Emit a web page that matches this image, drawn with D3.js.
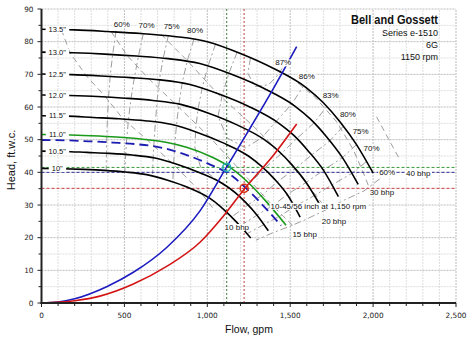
<!DOCTYPE html>
<html><head><meta charset="utf-8">
<script src="https://cdn.jsdelivr.net/npm/d3@7/dist/d3.min.js"></script>
<style>body{margin:0;background:#fff}svg{display:block}</style>
</head><body><svg id="c" width="474" height="344"></svg>
<script>
// ---------- data ----------
const flowTicks = [0,500,1000,1500,2000,2500];
const flowTickLabels = ["0","500","1,000","1,500","2,000","2,500"];
const headTicks = [0,10,20,30,40,50,60,70,80,90];

// impeller curves [flow gpm, head ft]
const imp135 = [[0,83.8],[200,83.6],[400,83.1],[600,82.5],[800,81.6],[1000,80.0],[1200,76.4],[1400,71.8],[1600,65.8],[1700,61.3],[1800,55.5],[1900,48.5],[2000,39.8]];
const imp130 = [[0,76.8],[191,76.6],[382,76.2],[573,75.6],[764,74.8],[955,73.3],[1146,70.0],[1337,65.8],[1528,60.3],[1624,56.2],[1719,50.9],[1815,44.5],[1910,36.3]];
const imp125 = [[0,70.1],[179,69.9],[358,69.5],[537,69.0],[716,68.3],[895,66.9],[1074,63.9],[1253,60.1],[1432,55.0],[1522,51.3],[1611,46.4],[1701,40.6],[1790,32.6]];
const imp120 = [[0,63.7],[168,63.5],[336,63.2],[504,62.7],[672,62.0],[840,60.8],[1008,58.1],[1176,54.6],[1344,50.0],[1428,46.6],[1512,42.2],[1596,36.9],[1680,30.0]];
const imp115 = [[0,57.3],[156,57.2],[312,56.8],[468,56.4],[624,55.8],[780,54.7],[936,52.3],[1092,49.1],[1248,45.0],[1326,41.9],[1404,38.0],[1482,33.2],[1560,26.3]];
const imp110 = [[0,51.6],[150,51.5],[300,51.2],[450,50.8],[600,50.2],[750,49.2],[880,47.6],[1030,44.6],[1118,42.2],[1240,37.2],[1360,30.8],[1475,23.8]];
const imp108 = [[0,49.9],[144,49.8],[288,49.5],[432,49.1],[576,48.6],[720,47.6],[864,45.5],[1008,42.6],[1152,38.8],[1224,35.6],[1296,32.0],[1370,28.0],[1445,23.7]];
const imp105 = [[0,46.5],[137,46.4],[274,46.1],[410,45.8],[547,45.3],[684,44.4],[821,42.4],[958,39.8],[1094,36.5],[1163,34.0],[1231,30.8],[1300,26.9],[1368,22.1]];
const imp100 = [[0,41.2],[127,41.1],[254,40.9],[380,40.6],[507,40.1],[634,39.3],[761,37.6],[888,35.3],[1014,32.1],[1078,29.6],[1141,26.6],[1205,23.2],[1262,19.9]];
const impNames = ['13.5"','13.0"','12.5"','12.0"','11.5"','11.0"','10.5"','10"'];

// system curves
const sysBlue = [[0,0],[100,0.3],[200,1.3],[393,5.0],[554,9.4],[755,17.0],[956,28.2],[1115,41.5],[1240,52.0],[1380,64.0],[1539,78.5]];
const sysRed = [[0,0],[200,0.7],[352,2.1],[554,5.8],[755,11.2],[956,18.6],[1100,26.8],[1225,35.0],[1400,45.3],[1539,54.8]];

// iso-efficiency lines
const eff60L = [[450,83.3],[430,76.4],[415,69.8],[405,63.4],[398,57.0],[394,51.4],[392,46.4],[390,40.8]];
const eff70L = [[614,82.5],[585,75.6],[560,69.0],[540,62.7],[525,56.4],[515,50.8],[508,45.8],[503,40.2]];
const eff75L = [[765,81.8],[735,75.2],[712,68.6],[698,62.3],[688,56.0],[680,50.4],[674,45.4],[670,39.5]];
const eff80L = [[920,80.8],[880,74.3],[850,67.8],[830,61.3],[815,55.0],[805,49.2],[798,43.6],[792,37.3]];
const eff83 = [[1050,79.3],[1005,72.6],[970,66.0],[945,59.6],[930,53.3],[925,47.6],[960,41.5],[1060,37.5],[1176,33.4],[1264,37.0],[1342,41.1],[1445,45.7],[1539,50.3],[1643,55.1],[1720,60.1]];
const eff86 = [[1180,76.8],[1130,70.3],[1090,63.6],[1065,57.2],[1120,50.5],[1230,47.5],[1327,50.5],[1414,55.5],[1509,60.9],[1580,66.4]];
const eff87 = [[1260,75.0],[1245,70.2],[1290,66.3],[1370,66.8],[1420,69.5],[1452,71.8]];
const eff80R = [[1820,54.1],[1738,49.6],[1629,45.3],[1529,41.1],[1420,37.0],[1338,33.3],[1245,30.0],[1154,26.6]];
const eff75R = [[1900,48.5],[1815,44.5],[1700,40.6],[1596,36.9],[1482,33.2],[1397,29.9],[1300,26.9],[1205,23.8]];
const eff70R = [[1960,43.3],[1872,39.7],[1754,36.2],[1646,32.9],[1529,29.6],[1441,26.7],[1341,24.0],[1243,21.3]];
const eff60R = [[2040,38.0],[1945,34.3],[1826,31.5],[1714,28.5],[1591,25.5],[1499,23.5],[1395,21.5],[1293,19.2]];
const effLabels = [["60%",484,85.4],["70%",634,85.1],["75%",785,84.8],["80%",926,83.4],["87%",1458,73.6],["86%",1600,69.5],["83%",1744,63.7],["80%",1848,57.9],["75%",1925,52.6],["70%",1991,47.5],["60%",2085,39.9]];

// bhp lines
const bhp10 = [[120,83.7],[172,76.6],[268,69.7],[386,63.1],[491,56.4],[632,50.2],[800,42.2],[950,34.5],[1050,28.0]];
const bhp15 = [[420,83.1],[516,75.8],[644,68.8],[806,61.0],[1014,50.8],[1250,37.8],[1400,29.5],[1520,23.5]];
const bhp20 = [[720,82.3],[879,74.2],[1060,64.2],[1270,54.5],[1470,44.5],[1600,36.5],[1700,30.0]];
const bhp30 = [[1500,69.3],[1650,63.0],[1780,55.5],[1880,47.0],[1940,40.0],[1975,35.5]];
const bhp40 = [[2021,57.0],[2090,50.5],[2162,43.8]];
const bhpLabels = [["10 bhp",1178,23.2],["15 bhp",1587,21.0],["20 bhp",1764,24.9],["30 bhp",2053,33.8],["40 bhp",2272,39.7]];

// operating points / reference lines
const opGreen = [1117,41.5];
const opRed = [1222,35.1];
const refBlueHead = 40.0;

// ---------- drawing ----------
const svg = d3.select("#c");
const x = d3.scaleLinear().domain([0,2500]).range([41.5,456]);
const y = d3.scaleLinear().domain([0,90]).range([303,9]);
const line = d3.line().x(d=>x(d[0])).y(d=>y(d[1]));
const smooth = d3.line().x(d=>x(d[0])).y(d=>y(d[1])).curve(d3.curveMonotoneX);

// grid
const g = svg.append("g");
g.selectAll(".vmin").data(d3.range(100,2501,100)).join("line")
  .attr("x1",d=>x(d)).attr("x2",d=>x(d)).attr("y1",y(0)).attr("y2",y(90))
  .attr("stroke",d=>d%500===0?"#bdbdbd":"#dedede").attr("stroke-width",1).attr("stroke-dasharray","2,1");
g.selectAll(".hmin").data(d3.range(5,91,5)).join("line")
  .attr("x1",x(0)).attr("x2",x(2500)).attr("y1",d=>y(d)).attr("y2",d=>y(d))
  .attr("stroke",d=>d%10===0?"#bdbdbd":"#dedede").attr("stroke-width",1).attr("stroke-dasharray","2,1");

// efficiency lines
[eff60L,eff70L,eff75L,eff80L,eff83,eff86,eff87,eff80R,eff75R,eff70R,eff60R].forEach(a=>{
  svg.append("path").attr("d",line(a)).attr("fill","none").attr("stroke","#9e9e9e")
    .attr("stroke-width",1).attr("stroke-dasharray","7,3,2,3");
});
// bhp lines
[bhp10,bhp15,bhp20,bhp30,bhp40].forEach(a=>{
  svg.append("path").attr("d",line(a)).attr("fill","none").attr("stroke","#9e9e9e")
    .attr("stroke-width",1).attr("stroke-dasharray","6,4");
});

// reference lines
function hline(h,col,dash){svg.append("line").attr("x1",x(0)).attr("x2",x(2500)).attr("y1",y(h)).attr("y2",y(h))
  .attr("stroke",col).attr("stroke-width",1).attr("stroke-dasharray",dash);}
function vline(f,col,dash){svg.append("line").attr("x1",x(f)).attr("x2",x(f)).attr("y1",y(0)).attr("y2",y(90))
  .attr("stroke",col).attr("stroke-width",1).attr("stroke-dasharray",dash);}
hline(opGreen[1],"#3a9a3a","3,2");
hline(refBlueHead,"#3030a0","3,2");
hline(opRed[1],"#d04040","3,2");
vline(opGreen[0],"#3f7a3f","2,2");
vline(opRed[0],"#c04040","2,2");

// impeller curves
[imp135,imp130,imp125,imp120,imp115,imp105,imp100].forEach(a=>{
  svg.append("path").attr("d",smooth(a)).attr("fill","none").attr("stroke","#000").attr("stroke-width",1.6);
});
svg.append("path").attr("d",smooth(imp108)).attr("fill","none").attr("stroke","#1c1cb0").attr("stroke-width",1.8).attr("stroke-dasharray","9,5");
svg.append("path").attr("d",smooth(imp110)).attr("fill","none").attr("stroke","#1a9a1a").attr("stroke-width",1.6);

// system curves
svg.append("path").attr("d",smooth(sysBlue)).attr("fill","none").attr("stroke","#1c1cc0").attr("stroke-width",1.6);
svg.append("path").attr("d",smooth(sysRed)).attr("fill","none").attr("stroke","#d41414").attr("stroke-width",1.6);

// operating points
svg.append("circle").attr("cx",x(opGreen[0])).attr("cy",y(opGreen[1])).attr("r",4).attr("fill","none").attr("stroke","#20b0b0").attr("stroke-width",1.5);
svg.append("circle").attr("cx",x(opRed[0])).attr("cy",y(opRed[1])).attr("r",4).attr("fill","none").attr("stroke","#d43010").attr("stroke-width",1.5);

// labels with white background
function label(txt,px,py,opts){
  const o = Object.assign({size:8,family:"Liberation Sans, Arial, sans-serif",anchor:"middle",pad:1,color:"#111"},opts||{});
  const t = svg.append("text").attr("x",px).attr("y",py).attr("dy","0.35em")
    .attr("text-anchor",o.anchor).attr("font-family",o.family).attr("font-size",o.size).attr("fill",o.color).text(txt);
  const b = t.node().getBBox();
  svg.insert("rect",()=>t.node()).attr("x",b.x-o.pad).attr("y",b.y+1).attr("width",b.width+2*o.pad).attr("height",b.height-2).attr("fill","#fff");
  return t;
}
const impCurves = [imp135,imp130,imp125,imp120,imp115,imp110,imp105,imp100];
impCurves.forEach((a,i)=>{
  label(impNames[i], x(95), y(a[0][1]), {size:7.5,pad:3});
});
effLabels.forEach(d=>label(d[0],x(d[1]),y(d[2]),{size:8}));
bhpLabels.forEach(d=>label(d[0],x(d[1]),y(d[2]),{size:8}));
label("10-45/56 inch at 1,150 rpm", x(1670), y(29.7), {size:8});

// axes
const xa = svg.append("g").attr("transform",`translate(0,${y(0)})`);
xa.selectAll(".tm").data(d3.range(0,2501,100)).join("line")
  .attr("x1",d=>x(d)).attr("x2",d=>x(d)).attr("y1",0).attr("y2",d=>d%500===0?4:3).attr("stroke","#222");
xa.selectAll(".tl").data(flowTicks).join("text").attr("x",d=>x(d)).attr("y",12).attr("dy","0.35em")
  .attr("text-anchor","middle").attr("font-family","DejaVu Sans, Verdana, sans-serif").attr("font-size",7.3).attr("fill","#222")
  .text((d,i)=>flowTickLabels[i]);
const ya = svg.append("g").attr("transform",`translate(${x(0)},0)`);
ya.selectAll(".tm").data(d3.range(0,91,5)).join("line")
  .attr("x1",d=>d%10===0?-4:-3).attr("x2",0).attr("y1",d=>y(d)).attr("y2",d=>y(d)).attr("stroke","#222");
ya.selectAll(".tl").data(headTicks).join("text").attr("x",-8).attr("y",d=>y(d)).attr("dy","0.35em")
  .attr("text-anchor","end").attr("font-family","DejaVu Sans, Verdana, sans-serif").attr("font-size",7.3).attr("fill","#222")
  .text(d=>d);
svg.append("line").attr("x1",x(0)).attr("x2",x(0)).attr("y1",y(0)+1).attr("y2",y(90)).attr("stroke","#222").attr("stroke-width",2);
svg.append("line").attr("x1",x(0)-1).attr("x2",x(2500)).attr("y1",y(0)).attr("y2",y(0)).attr("stroke","#222").attr("stroke-width",2);

// axis titles
svg.append("text").attr("x",249).attr("y",329).attr("dy","0.35em").attr("text-anchor","middle")
  .attr("font-family","Liberation Sans, Arial, sans-serif").attr("font-size",10.5).attr("fill","#111").text("Flow, gpm");
svg.append("text").attr("transform","translate(11,160) rotate(-90)").attr("dy","0.35em").attr("text-anchor","middle")
  .attr("font-family","Liberation Sans, Arial, sans-serif").attr("font-size",11).attr("fill","#111").text("Head, ft.w.c.");

// title block
svg.append("text").attr("x",438).attr("y",20).attr("dy","0.35em").attr("text-anchor","end")
  .attr("font-family","Liberation Sans, Arial, sans-serif").attr("font-weight","bold").attr("font-size",12.5)
  .attr("textLength",87).attr("lengthAdjust","spacingAndGlyphs").attr("fill","#111").text("Bell and Gossett");
const sub = ["Series e-1510","6G","1150 rpm"];
sub.forEach((s,i)=>{
  svg.append("text").attr("x",438).attr("y",33+i*11.7).attr("dy","0.35em").attr("text-anchor","end")
    .attr("font-family","Liberation Sans, Arial, sans-serif").attr("font-size",9).attr("fill","#111").text(s);
});
</script></body></html>
